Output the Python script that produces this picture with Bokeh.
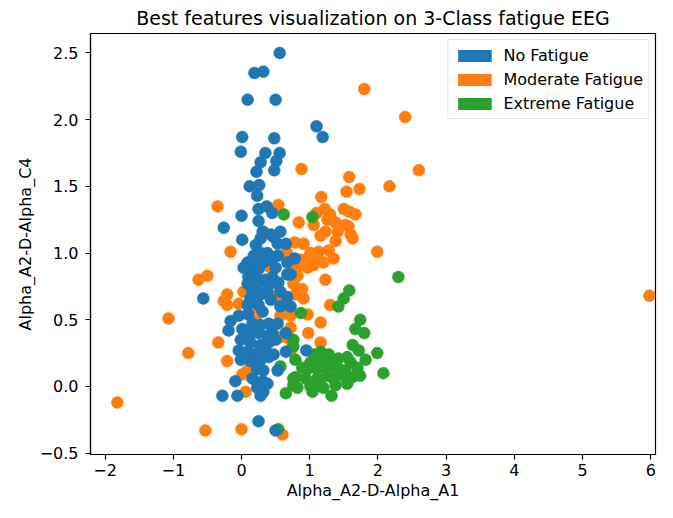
from bokeh.plotting import figure
from bokeh.models import Legend, LegendItem, FixedTicker, Range1d
from bokeh.embed import file_html
from bokeh.resources import INLINE

# ---- data ----
no_fatigue_x = [0.56, 0.19, 0.32, 0.09, 0.50, 1.10, 1.19, 0.01, 0.48, -0.01, 0.35, 0.56, 0.28, 0.51,
                0.22, 0.48, 0.12, 0.26, 0.23, 0.25, 0.37, 0.45, 0.00, -0.26, 0.25, 0.01, 0.28, 0.47,
                0.57, 0.65, 0.43, 0.31, 0.53, 0.21, 0.18, 0.28, 0.38, 0.53, 0.09, 0.21, 0.32, 0.43,
                0.67, 0.03, 0.16, 0.25, 0.50, 0.67, 0.10, 0.25, 0.35, 0.45, 0.54, 0.09, 0.23, 0.40,
                0.53, 0.16, 0.38, 0.57, 0.67, -0.56, 0.13, 0.28, 0.09, 0.25, 0.43, 0.57, 0.72, 0.78,
                0.72, -0.16, -0.04, 0.10, 0.31, 0.16, 0.28, 0.40, 0.53, -0.19, 0.01, 0.13, 0.25, 0.38,
                0.50, 0.45, -0.01, 0.13, 0.28, 0.40, 0.65, -0.04, 0.09, 0.23, 0.35, 0.47, -0.01, 0.13,
                0.28, 0.40, 0.65, 0.23, 0.32, 0.53, -0.09, 0.16, 0.31, 0.38, 0.23, 0.32, 0.28, -0.28,
                -0.06, 0.25, 0.50, 0.95]
no_fatigue_y = [2.50, 2.35, 2.36, 2.15, 2.15, 1.95, 1.87, 1.87, 1.86, 1.76, 1.75, 1.75, 1.68, 1.69,
                1.61, 1.62, 1.50, 1.51, 1.43, 1.33, 1.35, 1.30, 1.28, 1.19, 1.24, 1.10, 1.11, 1.12,
                1.16, 1.07, 1.14, 1.16, 1.07, 1.06, 0.98, 1.00, 1.00, 0.98, 0.93, 0.94, 0.93, 0.95,
                0.93, 0.89, 0.87, 0.88, 0.89, 0.84, 0.82, 0.80, 0.80, 0.82, 0.78, 0.77, 0.76, 0.76,
                0.77, 0.72, 0.71, 0.71, 0.67, 0.66, 0.66, 0.69, 0.61, 0.61, 0.65, 0.60, 0.60, 0.96,
                0.84, 0.49, 0.53, 0.54, 0.56, 0.47, 0.46, 0.47, 0.47, 0.42, 0.43, 0.40, 0.40, 0.38,
                0.35, 0.40, 0.35, 0.33, 0.31, 0.33, 0.40, 0.27, 0.26, 0.25, 0.27, 0.24, 0.20, 0.19,
                0.20, 0.22, 0.26, 0.13, 0.12, 0.12, 0.04, 0.06, 0.04, 0.02, -0.01, -0.04, -0.07, -0.07,
                -0.07, -0.26, -0.33, 0.27]

moderate_x = [-1.82, -1.07, -0.78, -0.34, -0.53, 0.00, 0.60, -0.63, -0.50, -0.35, 5.98, -0.21,
              0.01, 0.06, -0.16, -0.21, -0.21, 1.80, 2.40, 2.60, 0.88, 1.58, 1.54, 1.73, 2.17, 1.17,
              0.54, 1.99, 0.84, 1.06, 1.10, 1.22, 1.30, 1.38, 1.50, 1.58, 1.67, 1.52, 1.60, 1.16,
              1.38, 0.32, 0.78, 0.91, 1.26, 1.57, 1.23, 1.41, 1.63, 0.66, 0.40, 1.01, 1.13, 1.28,
              0.87, 0.98, 1.13, 1.35, 1.20, 1.06, 0.97, 0.82, 0.82, 0.76, 1.23, 0.82, 0.91, 1.30,
              0.75, 0.03, -0.04, 0.13, 0.25, 0.54, 0.57, 0.79, 0.89, 0.70, 0.72, 0.72, 0.97, 1.16,
              0.98, 1.16, 0.72, 0.72, 0.10, 0.21, 0.57, 0.57, 0.69, 0.25, -0.26, 0.09]
moderate_y = [-0.12, 0.51, 0.25, 0.33, -0.33, -0.32, -0.36, 0.80, 0.83, 1.35, 0.68, 0.19,
              0.09, -0.04, 1.01, 0.69, 0.61, 2.23, 2.02, 1.62, 1.63, 1.57, 1.46, 1.48, 1.50, 1.42,
              1.36, 1.01, 1.23, 1.21, 1.30, 1.33, 1.29, 1.23, 1.33, 1.31, 1.29, 1.21, 1.14, 1.13,
              1.09, 1.16, 1.08, 1.07, 1.25, 1.20, 1.16, 1.16, 1.11, 1.01, 0.90, 1.00, 1.01, 1.02,
              0.95, 0.96, 0.95, 0.96, 0.93, 0.91, 0.89, 0.90, 0.83, 0.77, 0.80, 0.71, 0.66, 0.61,
              0.87, 0.71, 0.62, 0.61, 0.58, 0.69, 0.64, 0.69, 0.73, 0.58, 0.53, 0.44, 0.54, 0.48,
              0.40, 0.33, 0.35, 0.27, 0.55, 0.49, 0.53, 0.37, 0.36, 0.17, 0.64, 0.12]

extreme_x = [0.62, 1.04, 0.87, 2.30, 1.58, 1.50, 1.42, 1.74, 1.67, 1.80, 1.63, 1.72, 1.99, 1.82,
             2.08, 1.16, 1.28, 1.06, 1.42, 1.55, 1.60, 1.70, 1.01, 1.16, 1.30, 0.89, 0.97, 1.11,
             1.26, 1.41, 1.52, 0.79, 0.94, 1.11, 1.26, 1.35, 1.50, 1.63, 1.74, 0.76, 1.01, 1.16,
             1.38, 1.55, 0.65, 1.04, 1.20, 1.32, 0.76, 0.79, 0.76, 0.82, 0.54, 0.57, 0.76]
extreme_y = [1.29, 1.27, 0.55, 0.82, 0.72, 0.66, 0.60, 0.50, 0.43, 0.40, 0.31, 0.27, 0.25, 0.20,
             0.10, 0.26, 0.24, 0.24, 0.21, 0.22, 0.18, 0.14, 0.18, 0.19, 0.18, 0.14, 0.13, 0.13,
             0.13, 0.14, 0.12, 0.07, 0.06, 0.06, 0.08, 0.06, 0.08, 0.07, 0.08, 0.01, 0.00, 0.01,
             0.01, 0.02, -0.05, -0.04, -0.01, -0.07, 0.30, 0.20, 0.06, -0.01, -0.32, 0.15, 0.35]

class_names = ["No Fatigue", "Moderate Fatigue", "Extreme Fatigue"]
class_colors = ["#1f77b4", "#ff7f0e", "#2ca02c"]

x_ticks = [-2, -1, 0, 1, 2, 3, 4, 5, 6]
x_tick_labels = ["\u22122", "\u22121", "0", "1", "2", "3", "4", "5", "6"]
y_ticks = [-0.5, 0.0, 0.5, 1.0, 1.5, 2.0, 2.5]
y_tick_labels = ["\u22120.5", "0.0", "0.5", "1.0", "1.5", "2.0", "2.5"]

FONT = "DejaVu Sans"

p = figure(width=657, height=502, output_backend="svg", toolbar_location=None,
           x_range=Range1d(-2.214, 6.07), y_range=Range1d(-0.51, 2.646),
           title="Best features visualization on 3-Class fatigue EEG",
           min_border_left=90, min_border_right=2, min_border_top=32, min_border_bottom=48)

p.title.align = "center"
p.title.text_font = FONT
p.title.text_font_size = "19px"
p.title.text_font_style = "normal"
p.title.text_color = "black"
p.title.standoff = 9

p.xgrid.visible = False
p.ygrid.visible = False
p.outline_line_color = "black"
p.outline_line_width = 1.2
p.background_fill_color = "white"
p.border_fill_color = "white"

for ax in (p.xaxis[0], p.yaxis[0]):
    ax.axis_line_color = "black"
    ax.axis_line_width = 1.2
    ax.major_tick_line_color = "black"
    ax.major_tick_line_width = 1.2
    ax.major_tick_out = 5
    ax.major_tick_in = 0
    ax.minor_tick_out = 0
    ax.minor_tick_in = 0
    ax.major_label_text_font = FONT
    ax.major_label_text_font_size = "16px"
    ax.major_label_text_color = "black"
    ax.axis_label_text_font = FONT
    ax.axis_label_text_font_size = "16px"
    ax.axis_label_text_font_style = "normal"
    ax.axis_label_text_color = "black"

p.xaxis.ticker = FixedTicker(ticks=x_ticks)
p.yaxis.ticker = FixedTicker(ticks=y_ticks)
p.xaxis.major_label_overrides = dict(zip(x_ticks, x_tick_labels))
p.yaxis.major_label_overrides = dict(zip(y_ticks, y_tick_labels))
p.xaxis.axis_label = "Alpha_A2-D-Alpha_A1"
p.yaxis.axis_label = "Alpha_A2-D-Alpha_C4"
p.xaxis.major_label_standoff = 4
p.yaxis.major_label_standoff = 7
p.xaxis.axis_label_standoff = 2
p.yaxis.axis_label_standoff = 2

series = {
    "No Fatigue": (no_fatigue_x, no_fatigue_y),
    "Moderate Fatigue": (moderate_x, moderate_y),
    "Extreme Fatigue": (extreme_x, extreme_y),
}
colors = dict(zip(class_names, class_colors))

# drawing order: moderate, extreme, then no-fatigue on top
for name in ["Moderate Fatigue", "Extreme Fatigue", "No Fatigue"]:
    xs, ys = series[name]
    p.scatter(xs, ys, size=12, fill_color=colors[name], line_color=colors[name], line_width=0.5)

# legend swatches: zero-size rectangles (invisible on the plot) that give patch-style legend glyphs
legend_items = []
for name in class_names:
    xs, ys = series[name]
    sw = p.rect(x=xs[:1], y=ys[:1], width=0, height=0,
                fill_color=colors[name], line_color=None)
    legend_items.append(LegendItem(label=name, renderers=[sw]))

legend = Legend(items=legend_items, location="top_right")
legend.label_text_font = FONT
legend.label_text_font_size = "16px"
legend.label_text_color = "black"
legend.border_line_color = "#cccccc"
legend.border_line_width = 1
legend.background_fill_color = "white"
legend.background_fill_alpha = 0.8
legend.glyph_width = 42
legend.glyph_height = 15
legend.label_height = 20
legend.spacing = 4
legend.padding = 5
legend.margin = 6
legend.label_standoff = 8
p.add_layout(legend)

open("out.html", "w").write(file_html(p, INLINE))
